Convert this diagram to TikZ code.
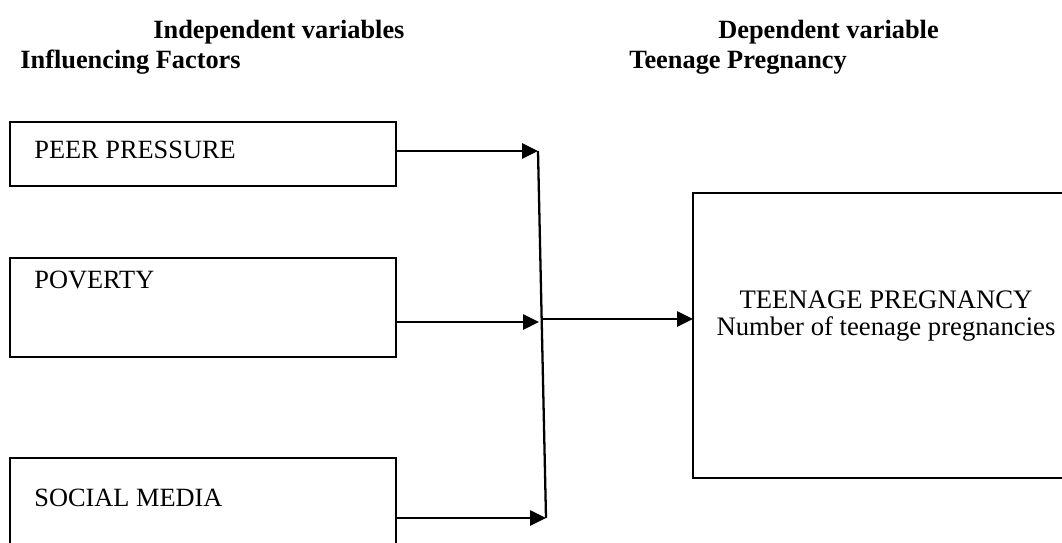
\documentclass[tikz,border=0pt]{standalone}
\usepackage{fontspec}
\setmainfont{Liberation Serif}
\usetikzlibrary{arrows.meta, positioning}

\begin{document}
\begin{tikzpicture}[x=0.02cm, y=-0.02cm,
    varbox/.style={draw, line width=1.4pt, minimum width=7.72cm, inner sep=0pt, outer sep=0pt, anchor=north west},
    boxtext/.style={anchor=base west, inner sep=0pt, font=\fontsize{15}{15}\selectfont},
    headtext/.style={anchor=base west, inner sep=0pt, font=\fontsize{15}{15}\selectfont\bfseries},
    link/.style={line width=1.3pt, -{Triangle[length=9pt, width=8.5pt]}}]
  \useasboundingbox (0,0) rectangle (1062,542);
  % headings
  \node[headtext] (indep) at (153,38) {Independent variables};
  \node[headtext] (factors) at (20,68) {Influencing Factors};
  \node[headtext] (dep) at (718,38) {Dependent variable};
  \node[headtext] (preg) at (629,68) {Teenage Pregnancy};
  % independent variable boxes
  \node[varbox, minimum height=1.28cm] (peer) at (10,122) {};
  \node[varbox, minimum height=1.98cm] (poverty) at (10,258) {};
  \node[varbox, minimum height=2.2cm] (social) at (10,458) {};
  \node[boxtext] (peertxt) at (34,158) {PEER PRESSURE};
  \node[boxtext] (povertytxt) at (34,288) {POVERTY};
  \node[boxtext] (socialtxt) at (34,506) {SOCIAL MEDIA};
  % dependent variable box
  \node[varbox, minimum width=7.4cm, minimum height=5.7cm] (target) at (693,193) {};
  \node[anchor=base, align=center, inner sep=0pt, font=\fontsize{15.2}{15.3}\selectfont] (targettxt) at (886,335)
    {TEENAGE PREGNANCY\\Number of teenage pregnancies};
  % joining line
  \coordinate (jtop) at (538,151);
  \coordinate (jpov) at (539,322);
  \coordinate (jmid) at (542,319);
  \coordinate (jbot) at (546,518);
  \draw[line width=1.3pt] (jtop) -- (jbot);
  \draw[link] (peer.east |- jtop) -- (jtop);
  \draw[link] (poverty.east |- jpov) -- (jpov);
  \draw[link] (social.east |- jbot) -- (jbot);
  \draw[link] (jmid) -- (target.west |- jmid);
\end{tikzpicture}
\end{document}
